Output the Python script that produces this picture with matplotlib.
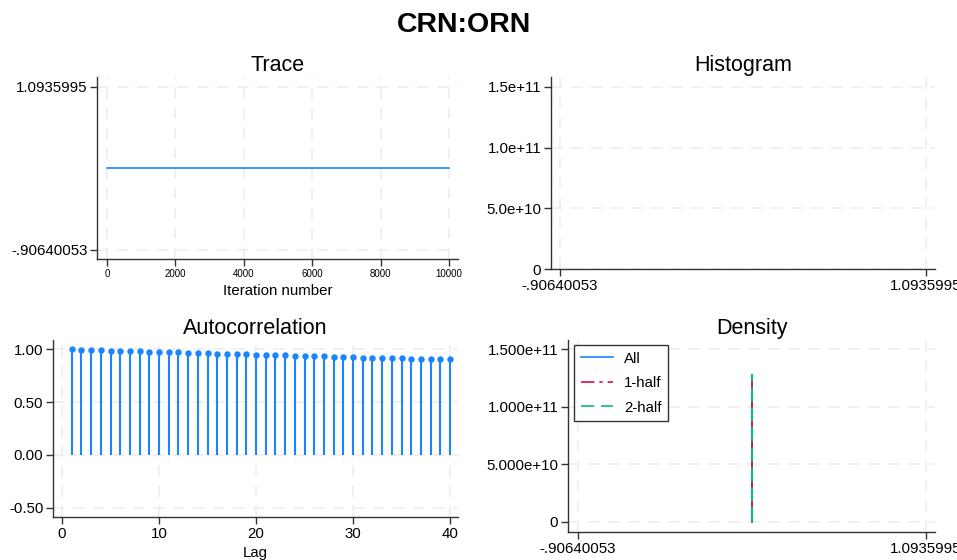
import numpy as np
import matplotlib
matplotlib.use("Agg")
import matplotlib.pyplot as plt

plt.rcParams['font.family'] = ['Liberation Sans', 'DejaVu Sans']

# chain summary for CRN:ORN (constant draws)
param_name = "CRN:ORN"
y_lo = -0.90640053
y_hi = 1.0935995
chain_value = 0.0935995
iterations = [1, 10000]
trace_values = [chain_value, chain_value]

lags = list(range(1, 41))
acf = [1.000, 0.997, 0.995, 0.992, 0.989, 0.986, 0.983, 0.981, 0.978, 0.976,
       0.973, 0.971, 0.968, 0.966, 0.963, 0.961, 0.958, 0.956, 0.953, 0.951,
       0.948, 0.946, 0.943, 0.941, 0.938, 0.936, 0.933, 0.931, 0.928, 0.926,
       0.923, 0.921, 0.919, 0.917, 0.915, 0.913, 0.911, 0.909, 0.907, 0.905]

# kernel density spike, all draws and the two halves
dens_x = [0.0931, 0.0936, 0.0941]
dens_all = [0.0, 1.28e11, 0.0]
dens_half1 = [0.0, 1.28e11, 0.0]
dens_half2 = [0.0, 1.28e11, 0.0]

BLUE = '#1a85ff'
PINK = '#d41159'
GREEN = '#00bf7f'
GRIDC = '#eeeeee'

W, H = 957, 560
fig = plt.figure(figsize=(W / 100, H / 100), dpi=100)


def make_ax(l, t, r, b):
    ax = fig.add_axes([l / W, 1 - b / H, (r - l) / W, (b - t) / H])
    for s in ['top', 'right']:
        ax.spines[s].set_visible(False)
    for s in ['left', 'bottom']:
        ax.spines[s].set_color('#333333')
        ax.spines[s].set_linewidth(1.0)
    ax.tick_params(direction='out', length=5, width=1, color='#333333',
                   labelsize=10.8, pad=2)
    ax.grid(True, color=GRIDC, linestyle=(0, (7, 5)), linewidth=1.2)
    ax.set_axisbelow(True)
    return ax


fig.text(463.5 / W, 1 - 25 / H, param_name, ha='center', va='center',
         fontsize=20.5, fontweight='bold')

# Trace
ax1 = make_ax(97, 77, 458, 259)
ax1.plot(iterations, trace_values, color=BLUE, lw=1.2)
ax1.set_xlim(-292, 10263)
ax1.set_ylim(-1.017, 1.216)
ax1.set_xticks([0, 2000, 4000, 6000, 8000, 10000])
ax1.set_yticks([y_lo, y_hi])
ax1.set_yticklabels(['-.90640053', '1.0935995'])
ax1.tick_params(axis='x', labelsize=7)
ax1.set_xlabel('Iteration number', fontsize=10.8, labelpad=4)
ax1.set_title('Trace', fontsize=15.5, pad=4.5)

# Histogram
ax2 = make_ax(551, 77, 935, 269)
ax2.set_xlim(-0.9556, 1.1428)
ax2.set_ylim(0, 1.582e11)
ax2.set_xticks([y_lo, y_hi])
ax2.set_xticklabels(['-.90640053', '1.0935995'])
ax2.set_yticks([0, 5e10, 1e11, 1.5e11])
ax2.set_yticklabels(['0', '5.0e+10', '1.0e+11', '1.5e+11'])
ax2.set_title('Histogram', fontsize=15.5, pad=4.5)

# Autocorrelation
ax3 = make_ax(53, 340, 458, 517)
ax3.vlines(lags, 0, acf, color=BLUE, lw=1.5)
ax3.plot(lags, acf, 'o', color=BLUE, ms=3.6)
ax3.set_xlim(-0.93, 40.82)
ax3.set_ylim(-0.589, 1.089)
ax3.set_xticks([0, 10, 20, 30, 40])
ax3.set_yticks([-0.5, 0, 0.5, 1.0])
ax3.set_yticklabels(['-0.50', '0.00', '0.50', '1.00'])
ax3.set_xlabel('Lag', fontsize=10.8, labelpad=4)
ax3.set_title('Autocorrelation', fontsize=15.5, pad=4.5)

# Density
ax4 = make_ax(568, 340, 935, 532)
ax4.plot(dens_x, dens_all, color=BLUE, lw=1.2, label='All')
ax4.plot(dens_x, dens_half1, color=PINK, lw=1.2, ls=(0, (8, 3, 2, 3)),
         label='1-half')
ax4.plot(dens_x, dens_half2, color=GREEN, lw=1.2, ls=(0, (8, 4)),
         label='2-half')
ax4.set_xlim(-0.964, 1.145)
ax4.set_ylim(-0.0896e11, 1.581e11)
ax4.set_xticks([y_lo, y_hi])
ax4.set_xticklabels(['-.90640053', '1.0935995'])
ax4.set_yticks([0, 5e10, 1e11, 1.5e11])
ax4.set_yticklabels(['0', '5.000e+10', '1.000e+11', '1.500e+11'])
ax4.set_title('Density', fontsize=15.5, pad=4.5)
leg = ax4.legend(loc='upper left', bbox_to_anchor=(0.016, 0.975),
                 fontsize=10.8, fancybox=False, framealpha=1,
                 handlelength=2.15, borderpad=0.45, labelspacing=0.7,
                 handletextpad=0.75, borderaxespad=0)
leg.get_frame().set_edgecolor('#333333')
leg.get_frame().set_linewidth(1.0)

fig.savefig('out.png', dpi=100)
